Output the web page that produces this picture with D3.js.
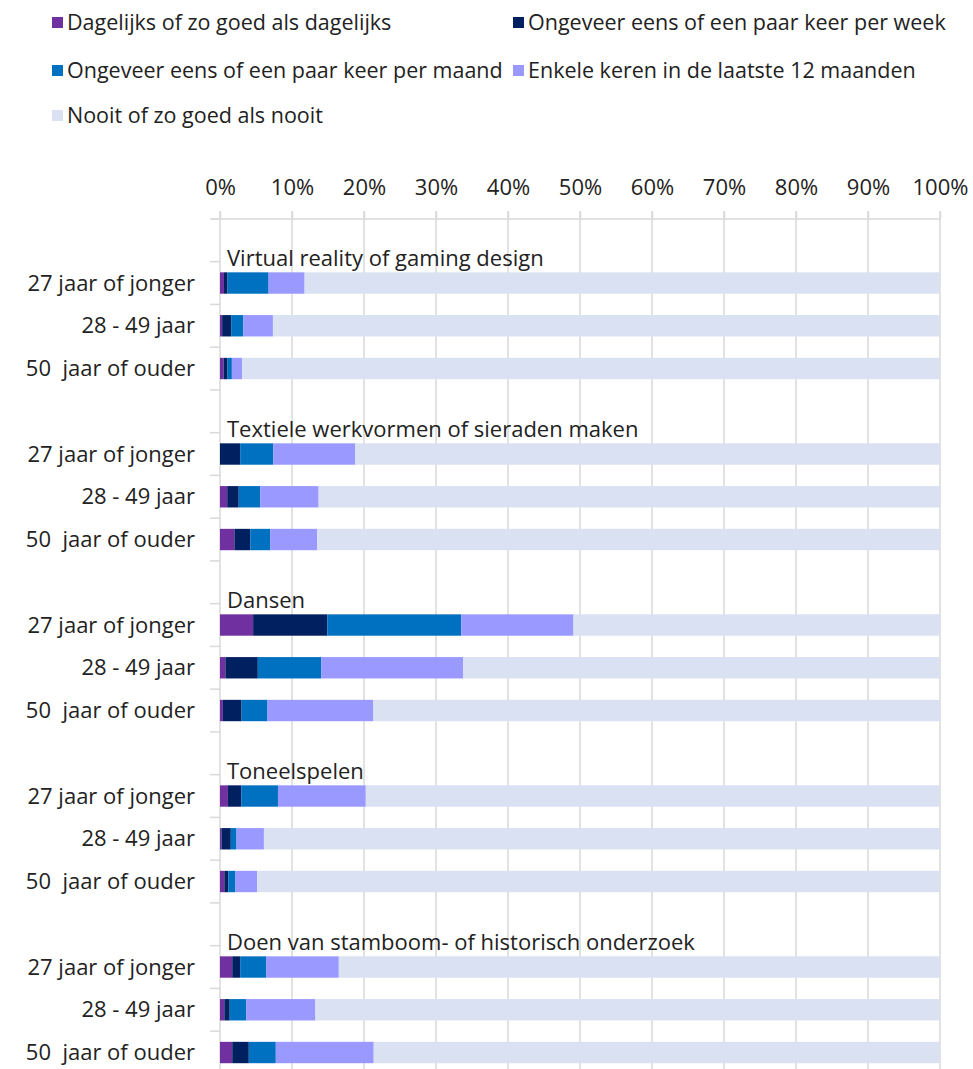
<!DOCTYPE html>
<html>
<head>
<meta charset="utf-8">
<script src="https://cdn.jsdelivr.net/npm/d3@7"></script>
<style>
  html, body { margin: 0; padding: 0; background: #fff; }
  svg { display: block; }
  text { font-family: "Open Sans", sans-serif; fill: #222; white-space: pre; }
</style>
</head>
<body>
<svg id="chart" width="973" height="1069"></svg>
<script>
// ---- data ----
const activities = [
  "Virtual reality of gaming design",
  "Textiele werkvormen of sieraden maken",
  "Dansen",
  "Toneelspelen",
  "Doen van stamboom- of historisch onderzoek"
];
const ageGroups = ["27 jaar of jonger", "28 - 49 jaar", "50  jaar of ouder"];
const seriesNames = [
  "Dagelijks of zo goed als dagelijks",
  "Ongeveer eens of een paar keer per week",
  "Ongeveer eens of een paar keer per maand",
  "Enkele keren in de laatste 12 maanden",
  "Nooit of zo goed als nooit"
];
// values per row: activity x age group (15 rows), in %
const dagelijks = [0.55, 0.3, 0.5,  0.0, 1.0, 2.0,  4.6, 0.75, 0.4,  1.1, 0.2, 0.6,  1.7, 0.6, 1.7];
const week      = [0.5, 1.25, 0.55, 2.8, 1.6, 2.2,  10.3, 4.5, 2.6,  1.85, 1.3, 0.55, 1.1, 0.75, 2.3];
const maand     = [5.7, 1.7, 0.6,  4.6, 3.0, 2.8,  18.6, 8.8, 3.6,  5.1, 0.8, 1.0,  3.6, 2.3, 3.75];
const enkele    = [5.0, 4.1, 1.4,  11.4, 8.1, 6.5, 15.6, 19.7, 14.7, 12.2, 3.8, 3.0, 10.1, 9.6, 13.6];
const nooit     = [88.2, 92.6, 96.9, 81.2, 86.3, 86.5, 50.9, 66.2, 78.7, 79.7, 93.9, 94.8, 83.5, 86.7, 78.6];
const xTicks = [0, 10, 20, 30, 40, 50, 60, 70, 80, 90, 100];
const colors = ["#7030A0", "#002060", "#0070C0", "#9999FF", "#D9E1F2"];

// ---- build table ----
const seriesArrays = [dagelijks, week, maand, enkele, nooit];
const keys = ["s0", "s1", "s2", "s3", "s4"];
const rows = [];
activities.forEach((act, ai) => {
  ageGroups.forEach((ag, gi) => {
    const i = ai * 3 + gi;
    const r = { slot: `a${ai}_g${gi}`, act: ai, age: ag };
    keys.forEach((k, si) => r[k] = seriesArrays[si][i]);
    rows.push(r);
  });
});
const slots = [];
activities.forEach((act, ai) => {
  slots.push(`a${ai}_title`);
  ageGroups.forEach((ag, gi) => slots.push(`a${ai}_g${gi}`));
});

const svg = d3.select("#chart");
const x = d3.scaleLinear().domain([0, 100]).range([220, 940]);
const y = d3.scaleBand().domain(slots).range([218.9, 1073.9]).paddingInner(0.5).paddingOuter(0.25);
const step = y.step();

// gridlines
svg.append("g").selectAll("line").data(xTicks).join("line")
  .attr("x1", d => x(d)).attr("x2", d => x(d))
  .attr("y1", 211).attr("y2", 1069)
  .attr("stroke", "#D9D9D9").attr("stroke-width", 1.5);

// top axis
const axisTop = d3.axisTop(x).tickValues(xTicks).tickFormat(d => d + "%").tickSize(8).tickPadding(16);
const gx = svg.append("g").attr("transform", `translate(0,${218.9})`).call(axisTop);
gx.select(".domain").attr("stroke", "#D9D9D9").attr("stroke-width", 1.5).attr("d", `M212,0H${x(100)}`);
gx.selectAll(".tick line").attr("stroke", "#D9D9D9").attr("stroke-width", 1.5);
gx.selectAll(".tick text").attr("font-size", 22).attr("fill", "#222")
  .style("font-family", "'Open Sans', sans-serif");

// left ticks at slot boundaries
const bounds = slots.map(s => y(s) - step * 0.25);
svg.append("g").selectAll("line").data(bounds).join("line")
  .attr("x1", 210).attr("x2", 220)
  .attr("y1", d => d).attr("y2", d => d)
  .attr("stroke", "#D9D9D9").attr("stroke-width", 1.5);

// stacked bars
const stack = d3.stack().keys(keys);
const stacked = stack(rows);
svg.append("g").selectAll("g").data(stacked).join("g")
  .attr("fill", (d, i) => colors[i])
  .selectAll("rect").data(d => d).join("rect")
  .attr("x", d => x(d[0]))
  .attr("width", d => Math.max(0, x(d[1]) - x(d[0])))
  .attr("y", d => y(d.data.slot))
  .attr("height", y.bandwidth());

// category labels
svg.append("g").selectAll("text").data(rows).join("text")
  .attr("x", 195)
  .attr("y", d => y(d.slot) + y.bandwidth() / 2)
  .attr("dy", "0.35em")
  .attr("text-anchor", "end")
  .attr("font-size", 22)
  .text(d => d.age);

// activity titles
svg.append("g").selectAll("text").data(activities).join("text")
  .attr("x", 227)
  .attr("y", (d, i) => y(`a${i}_g0`) - 6)
  .attr("font-size", 22)
  .text(d => d);

// legend
const legendPos = [[52, 22], [513, 22], [52, 70], [513, 70], [52, 115]];
const lg = svg.append("g").selectAll("g").data(seriesNames).join("g")
  .attr("transform", (d, i) => `translate(${legendPos[i][0]},${legendPos[i][1]})`);
lg.append("rect").attr("x", 0).attr("y", -5).attr("width", 11).attr("height", 11)
  .attr("fill", (d, i) => colors[i]);
lg.append("text").attr("x", 15).attr("y", 0).attr("dy", "0.35em")
  .attr("font-size", 21.5).text(d => d);
</script>
</body>
</html>
